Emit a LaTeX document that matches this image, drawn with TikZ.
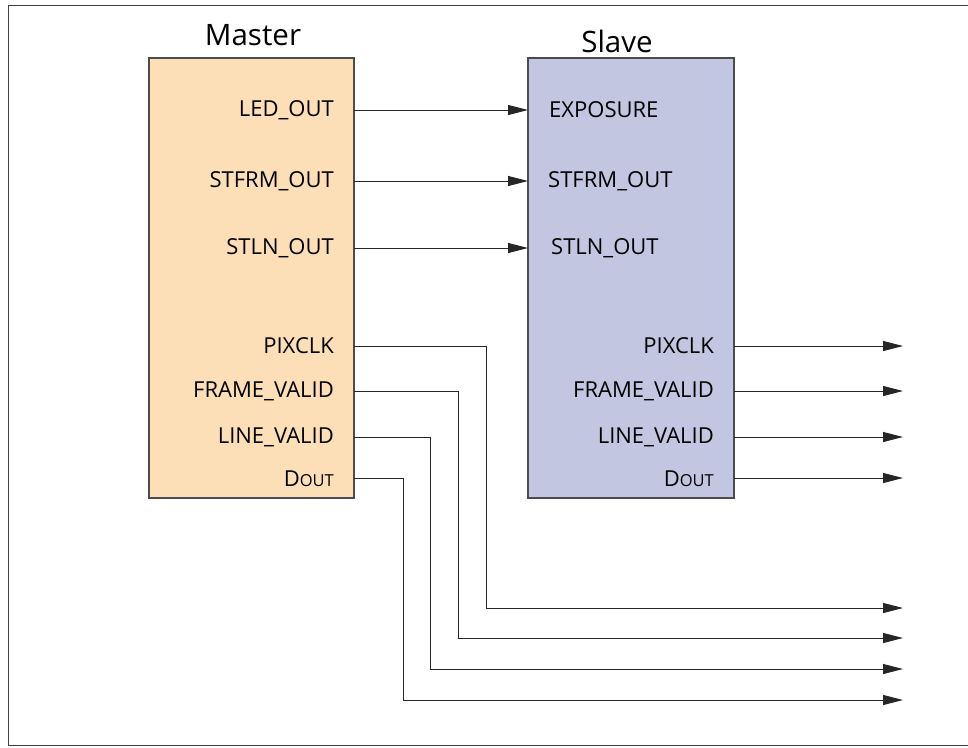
\documentclass[tikz,border=0pt]{standalone}
\usepackage{fontspec}
\setmainfont{Open Sans}
\usetikzlibrary{arrows.meta}
\definecolor{masterfill}{HTML}{FCDFB6}
\definecolor{slavefill}{HTML}{C2C6E0}
\tikzset{
    blk/.style={draw=black!70, line width=1.2pt},
    sig/.style={font=\fontsize{22}{22}\selectfont, inner sep=0pt},
    wire/.style={line width=1pt, black!85, -{Triangle[length=20pt,width=10pt]}},
}
\newcommand{\dout}{D{\fontsize{16.5}{16.5}\selectfont OUT}}
\begin{document}
\begin{tikzpicture}[x=1pt, y=-1pt]

        \useasboundingbox (0,0) rectangle (968,747);

        % Rahmen
        \draw[black!75, line width=1pt] (8.5,5.5) rectangle (975,745);

        % Master
        \filldraw[blk, fill=masterfill] (149,58) rectangle (354,498);
        \node[font=\fontsize{29.5}{29.5}\selectfont] (mtitle) at (253,35) {Master};

        % Slave
        \filldraw[blk, fill=slavefill] (528,58) rectangle (734,498);
        \node[font=\fontsize{29.5}{29.5}\selectfont] (stitle) at (617,41) {Slave};

        % Master Ausgaenge
        \node[sig, anchor=east] (mled) at (334,110) {LED\_OUT};
        \node[sig, anchor=east] (mfrm) at (334,181) {STFRM\_OUT};
        \node[sig, anchor=east] (mln) at (334,248) {STLN\_OUT};
        \node[sig, anchor=east] (mpix) at (334,346) {PIXCLK};
        \node[sig, anchor=east] (mfv) at (334,391) {FRAME\_VALID};
        \node[sig, anchor=east] (mlv) at (334,437) {LINE\_VALID};
        \node[sig, anchor=east] (mdo) at (334,479) {\dout};

        % Slave Eingaenge
        \node[sig, anchor=west] (sexp) at (549,110) {EXPOSURE};
        \node[sig, anchor=west] (sfrm) at (548,181) {STFRM\_OUT};
        \node[sig, anchor=west] (sln) at (551,248) {STLN\_OUT};

        % Slave Ausgaenge
        \node[sig, anchor=east] (spix) at (714,346) {PIXCLK};
        \node[sig, anchor=east] (sfv) at (714,391) {FRAME\_VALID};
        \node[sig, anchor=east] (slv) at (714,437) {LINE\_VALID};
        \node[sig, anchor=east] (sdo) at (714,479) {\dout};

        % Pins
        \coordinate (pled) at (354,110);
        \coordinate (pfrm) at (354,181);
        \coordinate (pln) at (354,248);
        \coordinate (qexp) at (528,110);
        \coordinate (qfrm) at (528,181);
        \coordinate (qln) at (528,248);
        \coordinate (ppix) at (354,346);
        \coordinate (pfv) at (354,391);
        \coordinate (plv) at (354,437);
        \coordinate (pdo) at (354,478);
        \coordinate (qpix) at (734,346);
        \coordinate (qfv) at (734,391);
        \coordinate (qlv) at (734,437);
        \coordinate (qdo) at (734,478);

        % Master -> Slave
        \draw[wire] (pled) -- (qexp);
        \draw[wire] (pfrm) -- (qfrm);
        \draw[wire] (pln) -- (qln);

        % Slave Ausgang
        \draw[wire] (qpix) -- (903,346);
        \draw[wire] (qfv) -- (903,391);
        \draw[wire] (qlv) -- (903,437);
        \draw[wire] (qdo) -- (903,478);

        % Master Ausgang
        \draw[wire] (ppix) -| (486,608) -- (903,608);
        \draw[wire] (pfv) -| (458,638) -- (903,638);
        \draw[wire] (plv) -| (430,669) -- (903,669);
        \draw[wire] (pdo) -| (403,700) -- (903,700);

    \end{tikzpicture}
\end{document}
